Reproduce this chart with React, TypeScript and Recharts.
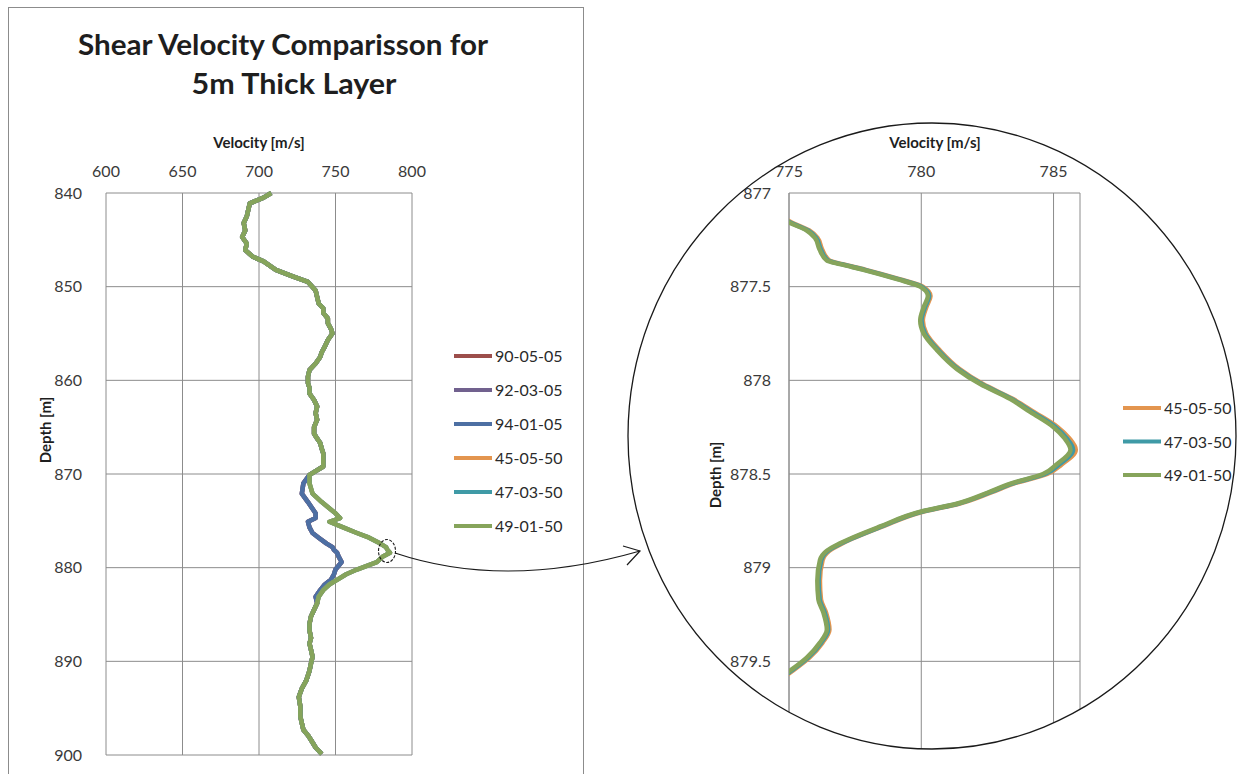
import React from "react";
import { ScatterChart, Scatter, XAxis, YAxis, CartesianGrid } from "recharts";

// ---- left chart: full profile 840-900 m ----
const leftDepth = [
  840.0, 840.5, 841.1, 841.8, 842.5, 843.2, 844.0, 844.7, 845.4, 846.1,
  846.8, 847.3, 848.2, 848.9, 849.5, 850.4, 851.1, 851.8, 852.3, 852.8,
  853.4, 853.9, 854.5, 855.0, 855.7, 856.4, 857.0, 857.5, 858.2, 858.9,
  859.6, 860.3, 860.8, 861.4, 862.1, 862.8, 863.5, 864.2, 865.0, 865.7,
  866.2, 866.7, 867.3, 867.8, 868.5, 869.2, 870.1, 871.0, 872.1, 873.0,
  874.2, 874.7, 875.1, 875.7, 876.3, 876.8, 877.4, 877.8, 878.1, 878.4,
  878.8, 879.4, 880.2, 880.7, 881.3, 881.8, 882.4, 883.1, 883.8, 884.5,
  885.2, 886.0, 886.7, 887.5, 888.1, 888.8, 889.5, 890.2, 891.0, 892.0,
  892.9, 893.8, 894.8, 895.9, 896.6, 897.3, 897.9, 898.4, 899.2, 899.9,
];

const vel900505 = [
  708, 703, 694, 693, 692, 690, 691, 689, 692, 691,
  696, 703, 711, 722, 732, 737, 738, 739, 742, 742,
  745, 745, 747, 748, 745, 743, 741, 740, 737, 733,
  732, 732, 733, 733, 736, 738, 737, 738, 736, 736,
  738, 740, 741, 742, 742, 742, 733, 729, 728, 732,
  737, 737, 732, 733, 735, 739, 744, 748, 749, 751,
  752, 754, 750, 749, 747, 743, 740, 737, 738, 736,
  734, 733, 733, 734, 733, 734, 735, 734, 733, 731,
  728, 726, 727, 727, 728, 729, 732, 734, 737, 741,
];
const vel920305 = [
  708, 703, 694, 693, 692, 690, 691, 689, 692, 691,
  696, 703, 711, 722, 732, 737, 738, 739, 742, 742,
  745, 745, 747, 748, 745, 743, 741, 740, 737, 733,
  732, 732, 733, 733, 736, 738, 737, 738, 736, 736,
  738, 740, 741, 742, 742, 742, 733, 729, 728, 732,
  737, 737, 732, 733, 735, 739, 744, 748, 749, 751,
  752, 754, 750, 749, 747, 743, 740, 737, 738, 736,
  734, 733, 733, 734, 733, 734, 735, 734, 733, 731,
  728, 726, 727, 727, 728, 729, 732, 734, 737, 741,
];
const vel940105 = [
  708, 703, 694, 693, 692, 690, 691, 689, 692, 691,
  696, 703, 711, 722, 732, 737, 738, 739, 742, 742,
  745, 745, 747, 748, 745, 743, 741, 740, 737, 733,
  732, 732, 733, 733, 736, 738, 737, 738, 736, 736,
  738, 740, 741, 742, 742, 742, 733, 729, 728, 732,
  737, 737, 732, 733, 735, 739, 744, 748, 749, 751,
  752, 754, 750, 749, 747, 743, 740, 737, 738, 736,
  734, 733, 733, 734, 733, 734, 735, 734, 733, 731,
  728, 726, 727, 727, 728, 729, 732, 734, 737, 741,
];
const vel450550 = [
  708, 703, 694, 693, 692, 690, 691, 689, 692, 691,
  696, 703, 711, 722, 732, 737, 738, 739, 742, 742,
  745, 745, 747, 748, 745, 743, 741, 740, 737, 733,
  732, 732, 733, 733, 736, 738, 737, 738, 736, 736,
  738, 740, 741, 742, 742, 742, 733, 733, 735, 741,
  750, 753, 746, 755, 764, 772, 779, 783, 784, 785.6,
  781, 777, 764, 757, 751, 746, 742, 739, 738, 736,
  734, 733, 733, 734, 733, 734, 735, 734, 733, 731,
  728, 726, 727, 727, 728, 729, 732, 734, 737, 741,
];
const vel470350 = [
  708, 703, 694, 693, 692, 690, 691, 689, 692, 691,
  696, 703, 711, 722, 732, 737, 738, 739, 742, 742,
  745, 745, 747, 748, 745, 743, 741, 740, 737, 733,
  732, 732, 733, 733, 736, 738, 737, 738, 736, 736,
  738, 740, 741, 742, 742, 742, 733, 733, 735, 741,
  750, 753, 746, 755, 764, 772, 779, 783, 784, 785.6,
  781, 777, 764, 757, 751, 746, 742, 739, 738, 736,
  734, 733, 733, 734, 733, 734, 735, 734, 733, 731,
  728, 726, 727, 727, 728, 729, 732, 734, 737, 741,
];
const vel490150 = [
  708, 703, 694, 693, 692, 690, 691, 689, 692, 691,
  696, 703, 711, 722, 732, 737, 738, 739, 742, 742,
  745, 745, 747, 748, 745, 743, 741, 740, 737, 733,
  732, 732, 733, 733, 736, 738, 737, 738, 736, 736,
  738, 740, 741, 742, 742, 742, 733, 733, 735, 741,
  750, 753, 746, 755, 764, 772, 779, 783, 784, 785.6,
  781, 777, 764, 757, 751, 746, 742, 739, 738, 736,
  734, 733, 733, 734, 733, 734, 735, 734, 733, 731,
  728, 726, 727, 727, 728, 729, 732, 734, 737, 741,
];

// ---- right chart: zoom 877-880 m ----
const zoomDepth = [
  877.05, 877.16, 877.20, 877.24, 877.30, 877.36, 877.38, 877.41, 877.46, 877.50,
  877.55, 877.61, 877.68, 877.75, 877.84, 877.94, 878.02, 878.10, 878.17, 878.25,
  878.31, 878.37, 878.45, 878.50, 878.55, 878.60, 878.66, 878.70, 878.78, 878.87,
  878.91, 878.96, 879.07, 879.17, 879.24, 879.33, 879.40, 879.48, 879.55, 879.65,
];
const zoom450550 = [
  773.9, 775.14, 775.77, 776.08, 776.25, 776.53, 777.03, 777.91, 779.18, 780.06,
  780.35, 780.19, 780.06, 780.19, 780.7, 781.45, 782.33, 783.47, 784.27, 785.16,
  785.6, 785.84, 785.3, 784.76, 783.52, 782.62, 781.4, 780.1, 778.55, 777.03,
  776.53, 776.27, 776.17, 776.21, 776.4, 776.53, 776.27, 775.77, 775.14, 774.1,
];
const zoom470350 = [
  773.85, 775.09, 775.72, 776.03, 776.2, 776.48, 776.98, 777.86, 779.13, 780.01,
  780.3, 780.14, 780.01, 780.14, 780.65, 781.4, 782.28, 783.42, 784.2, 785.08,
  785.5, 785.74, 785.2, 784.68, 783.46, 782.56, 781.35, 780.05, 778.5, 776.98,
  776.48, 776.22, 776.12, 776.16, 776.35, 776.48, 776.22, 775.72, 775.09, 774.05,
];
const zoom490150 = [
  773.8, 775.04, 775.67, 775.98, 776.15, 776.43, 776.93, 777.81, 779.08, 779.96,
  780.25, 780.09, 779.96, 780.09, 780.6, 781.35, 782.23, 783.37, 784.13, 785.0,
  785.42, 785.64, 785.1, 784.6, 783.4, 782.5, 781.3, 780.0, 778.45, 776.93,
  776.43, 776.17, 776.07, 776.11, 776.3, 776.43, 776.17, 775.67, 775.04, 774.0,
];

const leftVelTicks = [600, 650, 700, 750, 800];
const leftDepthTicks = [840, 850, 860, 870, 880, 890, 900];
const zoomVelTicks = [775, 780, 785];
const zoomDepthTicks = [877, 877.5, 878, 878.5, 879, 879.5, 880];

const leftSeries = [
  { name: "90-05-05", color: "#9C4E4B", vel: vel900505 },
  { name: "92-03-05", color: "#71618E", vel: vel920305 },
  { name: "94-01-05", color: "#4D6FA3", vel: vel940105 },
  { name: "45-05-50", color: "#E3954F", vel: vel450550 },
  { name: "47-03-50", color: "#3F9AA6", vel: vel470350 },
  { name: "49-01-50", color: "#86A45B", vel: vel490150 },
];
const zoomSeries = [
  { name: "45-05-50", color: "#E3954F", vel: zoom450550 },
  { name: "47-03-50", color: "#3F9AA6", vel: zoom470350 },
  { name: "49-01-50", color: "#86A45B", vel: zoom490150 },
];

const toPoints = (depth: number[], vel: number[]) =>
  depth.map((d, i) => ({ d, v: vel[i] }));

const NoDot = () => null;

const tickStyle = { fontSize: 16, fill: "#3a3a3a", fontFamily: "Lato" };
const gridColor = "#8c8c8c";

function LeftChart() {
  return (
    <ScatterChart width={600} height={774} margin={{ top: 163, left: 56, right: 188, bottom: 19 }}>
      <CartesianGrid stroke={gridColor} />
      <XAxis type="number" dataKey="v" orientation="top" domain={[600, 800]} ticks={leftVelTicks}
        interval={0} height={30} axisLine={false} tickLine={false} tick={tickStyle} tickMargin={10} />
      <YAxis type="number" dataKey="d" reversed domain={[840, 900]} ticks={leftDepthTicks}
        interval={0} width={50} axisLine={false} tickLine={false} tick={tickStyle} tickMargin={18} />
      {leftSeries.map(s => (
        <Scatter key={s.name} name={s.name} data={toPoints(leftDepth, s.vel)} fill={s.color}
          line={{ stroke: s.color, strokeWidth: 4.5, strokeLinejoin: "round" }}
          lineJointType="linear" shape={NoDot} isAnimationActive={false} />
      ))}
    </ScatterChart>
  );
}

function ZoomChart() {
  return (
    <ScatterChart width={644} height={774} margin={{ top: 163, left: 139, right: 164, bottom: 19 }}>
      <CartesianGrid stroke={gridColor} />
      <XAxis type="number" dataKey="v" orientation="top" domain={[775, 786]} ticks={zoomVelTicks}
        allowDataOverflow interval={0} height={30} axisLine={false} tickLine={false} tick={tickStyle} tickMargin={10} />
      <YAxis type="number" dataKey="d" reversed domain={[877, 880]} ticks={zoomDepthTicks}
        allowDataOverflow interval={0} width={50} axisLine={{ stroke: gridColor }} tickLine={false}
        tick={tickStyle} tickMargin={12} />
      {zoomSeries.map(s => (
        <Scatter key={s.name} name={s.name} data={toPoints(zoomDepth, s.vel)} fill={s.color}
          line={{ stroke: s.color, strokeWidth: 4.5, strokeLinejoin: "round" }}
          lineJointType="monotoneY" shape={NoDot} isAnimationActive={false} />
      ))}
    </ScatterChart>
  );
}

function LegendRows({ items, x, y0, step }: { items: { name: string; color: string }[]; x: number; y0: number; step: number }) {
  return (
    <g>
      {items.map((s, i) => (
        <g key={s.name}>
          <line x1={x} x2={x + 38} y1={y0 + i * step} y2={y0 + i * step} stroke={s.color} strokeWidth={4} />
          <text x={x + 41} y={y0 + i * step + 6} fontSize={16} fill="#2a2a2a" fontFamily="Lato">{s.name}</text>
        </g>
      ))}
    </g>
  );
}

export default function App() {
  const bold = { fontFamily: "Lato", fontWeight: 700, fill: "#1e1e1e" } as const;
  return (
    <div style={{ position: "absolute", left: 0, top: 0, width: 1244, height: 774, overflow: "hidden", background: "#fff", fontFamily: "Lato, sans-serif" }}>
      <div style={{ position: "absolute", left: 0, top: 0 }}>
        <LeftChart />
      </div>
      <div style={{ position: "absolute", left: 600, top: 0, width: 644, height: 774, clipPath: "ellipse(304px 313px at 332px 436px)" }}>
        <ZoomChart />
      </div>
      <svg width={1244} height={774} style={{ position: "absolute", left: 0, top: 0, pointerEvents: "none" }}>
        <rect x={8.5} y={7.5} width={575} height={820} fill="none" stroke={gridColor} />
        <text x={283} y={55} textAnchor="middle" fontSize={28} textLength={410} lengthAdjust="spacingAndGlyphs" {...bold}>
          Shear Velocity Comparisson for
        </text>
        <text x={294} y={94} textAnchor="middle" fontSize={28} textLength={205} lengthAdjust="spacingAndGlyphs" {...bold}>
          5m Thick Layer
        </text>
        <text x={259} y={148} textAnchor="middle" fontSize={15} {...bold}>Velocity [m/s]</text>
        <text x={935} y={148} textAnchor="middle" fontSize={15} {...bold}>Velocity [m/s]</text>
        <text x={45} y={430} textAnchor="middle" dominantBaseline="central" fontSize={15}
          transform="rotate(-90 45 430)" {...bold}>Depth [m]</text>
        <text x={715} y={475} textAnchor="middle" dominantBaseline="central" fontSize={15}
          transform="rotate(-90 715 475)" {...bold}>Depth [m]</text>
        <LegendRows items={leftSeries} x={454} y0={356} step={34} />
        <LegendRows items={zoomSeries} x={1123} y0={408} step={33.5} />
        <ellipse cx={932} cy={436} rx={304} ry={313} fill="none" stroke="#1a1a1a" strokeWidth={1.3} />
        <ellipse cx={387} cy={551} rx={8.5} ry={11.5} fill="none" stroke="#1a1a1a" strokeWidth={1.1} strokeDasharray="3 1.5" />
        <path d="M 395 553 Q 505 590 640 551" fill="none" stroke="#1a1a1a" strokeWidth={1.2} />
        <path d="M 623 546 L 640 551 L 627 565" fill="none" stroke="#1a1a1a" strokeWidth={1.2} />
      </svg>
    </div>
  );
}
